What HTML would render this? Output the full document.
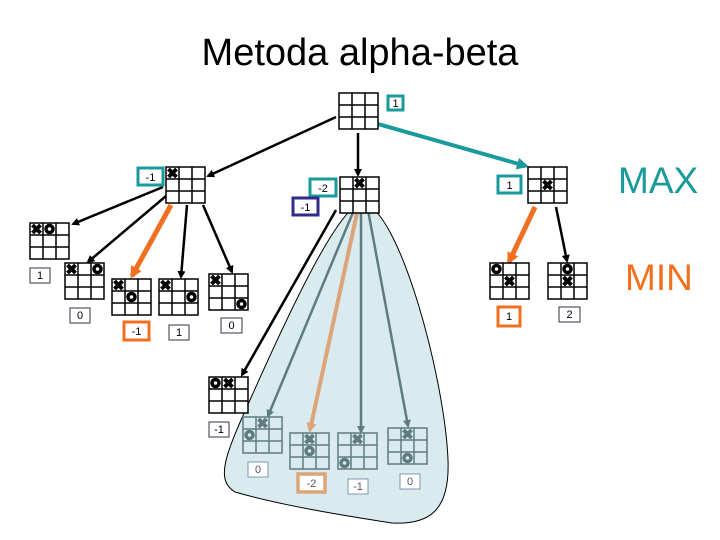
<!DOCTYPE html>
<html><head><meta charset="utf-8"><style>
body{margin:0;background:#fff}
svg{display:block}
text{font-family:"Liberation Sans",sans-serif}
</style></head><body>
<svg id="s" width="720" height="540" viewBox="0 0 720 540" xmlns="http://www.w3.org/2000/svg">
<defs>
<marker id="ab" markerWidth="8" markerHeight="8" refX="6" refY="4" orient="auto" markerUnits="userSpaceOnUse"><path d="M0,0 L8,4 L0,8 Z" fill="#000"/></marker>
<marker id="at" markerWidth="12" markerHeight="12" refX="9" refY="6" orient="auto" markerUnits="userSpaceOnUse"><path d="M0,0 L12,6 L0,12 Z" fill="#1a9a9a"/></marker>
<marker id="ao" markerWidth="12" markerHeight="12" refX="9" refY="6" orient="auto" markerUnits="userSpaceOnUse"><path d="M0,0 L12,6 L0,12 Z" fill="#f07020"/></marker>
<marker id="ag" markerWidth="8" markerHeight="8" refX="6" refY="4" orient="auto" markerUnits="userSpaceOnUse"><path d="M0,0 L8,4 L0,8 Z" fill="#5f7b80"/></marker>
<marker id="an" markerWidth="10" markerHeight="10" refX="7" refY="5" orient="auto" markerUnits="userSpaceOnUse"><path d="M0,0 L10,5 L0,10 Z" fill="#dda478"/></marker>
</defs>
<text x="360" y="65" font-size="38" text-anchor="middle">Metoda alpha-beta</text>
<path d="M363,203 C340,203 290,310 250,400 C225,455 215,480 235,492 C280,505 340,515 392,523 C430,525 450,510 448,460 C445,380 400,210 363,203 Z" fill="#d9ebee" stroke="#000" stroke-width="1"/>
<g stroke="#000" stroke-width="2.5" fill="none">
<line x1="336" y1="117" x2="208" y2="176" marker-end="url(#ab)"/>
<line x1="358" y1="133" x2="358" y2="175" marker-end="url(#ab)"/>
<line x1="163" y1="187" x2="73" y2="224" marker-end="url(#ab)"/>
<line x1="166" y1="196" x2="88" y2="262" marker-end="url(#ab)"/>
<line x1="187" y1="205" x2="181" y2="277" marker-end="url(#ab)"/>
<line x1="203" y1="205" x2="232" y2="272" marker-end="url(#ab)"/>
<line x1="556" y1="207" x2="567" y2="261" marker-end="url(#ab)"/>
<line x1="336" y1="210" x2="242" y2="375" marker-end="url(#ab)"/>
</g>
<line x1="378" y1="124" x2="526" y2="166" stroke="#1a9a9a" stroke-width="4" marker-end="url(#at)"/>
<line x1="171" y1="205" x2="132" y2="276" stroke="#f07020" stroke-width="5" marker-end="url(#ao)"/>
<line x1="535" y1="207" x2="509" y2="262" stroke="#f07020" stroke-width="5" marker-end="url(#ao)"/>
<g stroke="#5f7b80" stroke-width="2.5" fill="none">
<line x1="354" y1="210" x2="268" y2="416" marker-end="url(#ag)"/>
<line x1="361" y1="212" x2="361" y2="432" marker-end="url(#ag)"/>
<line x1="368" y1="210" x2="408" y2="426" marker-end="url(#ag)"/>
</g>
<line x1="357" y1="213" x2="310" y2="430" stroke="#dda478" stroke-width="4" marker-end="url(#an)"/>
<g id="boards"></g>
<g font-size="11" text-anchor="middle">
<rect x="388" y="96" width="15" height="14" fill="#fff" stroke="#1a9a9a" stroke-width="3"/><text x="395.5" y="107">1</text>
<rect x="138" y="168" width="25" height="17" fill="#fff" stroke="#1a9a9a" stroke-width="3"/><text x="150.5" y="181">-1</text>
<rect x="310" y="179" width="26" height="17" fill="#fff" stroke="#1a9a9a" stroke-width="3"/><text x="323" y="192">-2</text>
<rect x="293" y="198" width="25" height="17" fill="#fff" stroke="#2e2e8a" stroke-width="3"/><text x="305.5" y="211">-1</text>
<rect x="498" y="176" width="23" height="17" fill="#fff" stroke="#1a9a9a" stroke-width="3"/><text x="509.5" y="189">1</text>
<rect x="30" y="268" width="20" height="15" fill="#fff" stroke="#334" stroke-width="1"/><text x="40" y="279">1</text>
<rect x="70" y="308" width="20" height="15" fill="#fff" stroke="#334" stroke-width="1"/><text x="80" y="319">0</text>
<rect x="124" y="322" width="25" height="18" fill="#fff" stroke="#f07020" stroke-width="3"/><text x="136.5" y="335">-1</text>
<rect x="169" y="325" width="20" height="15" fill="#fff" stroke="#334" stroke-width="1"/><text x="179" y="336">1</text>
<rect x="221" y="318" width="21" height="15" fill="#fff" stroke="#334" stroke-width="1"/><text x="231.5" y="329">0</text>
<rect x="498" y="307" width="22" height="19" fill="#fff" stroke="#f07020" stroke-width="3"/><text x="509" y="320">1</text>
<rect x="559" y="307" width="21" height="15" fill="#fff" stroke="#334" stroke-width="1"/><text x="569.5" y="318">2</text>
<rect x="209" y="422" width="20" height="15" fill="#fff" stroke="#334" stroke-width="1"/><text x="219" y="433">-1</text>
<rect x="248" y="462" width="20" height="15" fill="#fff" stroke="#7a9ab0" stroke-width="1"/><text x="258" y="473" fill="#556">0</text>
<rect x="298" y="474" width="27" height="18" fill="#fff" stroke="#dda478" stroke-width="3.5"/><text x="311.5" y="487" fill="#556">-2</text>
<rect x="348" y="479" width="20" height="15" fill="#fff" stroke="#7a9ab0" stroke-width="1"/><text x="358" y="490" fill="#556">-1</text>
<rect x="400" y="474" width="20" height="15" fill="#fff" stroke="#7a9ab0" stroke-width="1"/><text x="410" y="485" fill="#556">0</text>
</g>
<text x="618" y="193" font-size="37" fill="#1a9a9a">MAX</text>
<text x="625" y="290" font-size="37" fill="#f07020">MIN</text>
</svg>
<script>
var NS="http://www.w3.org/2000/svg",g=document.getElementById("boards");
function el(t,a){var e=document.createElementNS(NS,t);for(var k in a)e.setAttribute(k,a[k]);g.appendChild(e);return e;}
function board(x,y,marks,grey){
 var c=grey?"#5f7b80":"#000",w=13,h=12;
 el("rect",{x:x,y:y,width:39,height:36,fill:grey?"none":"#fff",stroke:c,"stroke-width":1.5});
 for(var i=1;i<3;i++){el("line",{x1:x+i*w,y1:y,x2:x+i*w,y2:y+36,stroke:c,"stroke-width":1.5});
  el("line",{x1:x,y1:y+i*h,x2:x+39,y2:y+i*h,stroke:c,"stroke-width":1.5});}
 marks.forEach(function(m){var cx=x+m[2]*w+w/2,cy=y+m[1]*h+h/2;
  if(m[0]=="X"){el("line",{x1:cx-4,y1:cy-4,x2:cx+4,y2:cy+4,stroke:c,"stroke-width":4});
   el("line",{x1:cx+4,y1:cy-4,x2:cx-4,y2:cy+4,stroke:c,"stroke-width":4});}
  else el("circle",{cx:cx,cy:cy,r:3.5,fill:"none",stroke:c,"stroke-width":3.5});});
}
board(339,93,[]);
board(166,167,[["X",0,0]]);
board(340,177,[["X",0,1]]);
board(528,167,[["X",1,1]]);
board(30,223,[["X",0,0],["O",0,1]]);
board(65,263,[["X",0,0],["O",0,2]]);
board(112,279,[["X",0,0],["O",1,1]]);
board(159,279,[["X",0,0],["O",1,2]]);
board(209,274,[["X",0,0],["O",2,2]]);
board(490,263,[["O",0,0],["X",1,1]]);
board(548,263,[["O",0,1],["X",1,1]]);
board(209,377,[["O",0,0],["X",0,1]]);
board(243,417,[["X",0,1],["O",1,0]],1);
board(290,433,[["X",0,1],["O",1,1]],1);
board(338,433,[["X",0,1],["O",2,0]],1);
board(388,428,[["X",0,1],["O",2,1]],1);
</script>
</body></html>
